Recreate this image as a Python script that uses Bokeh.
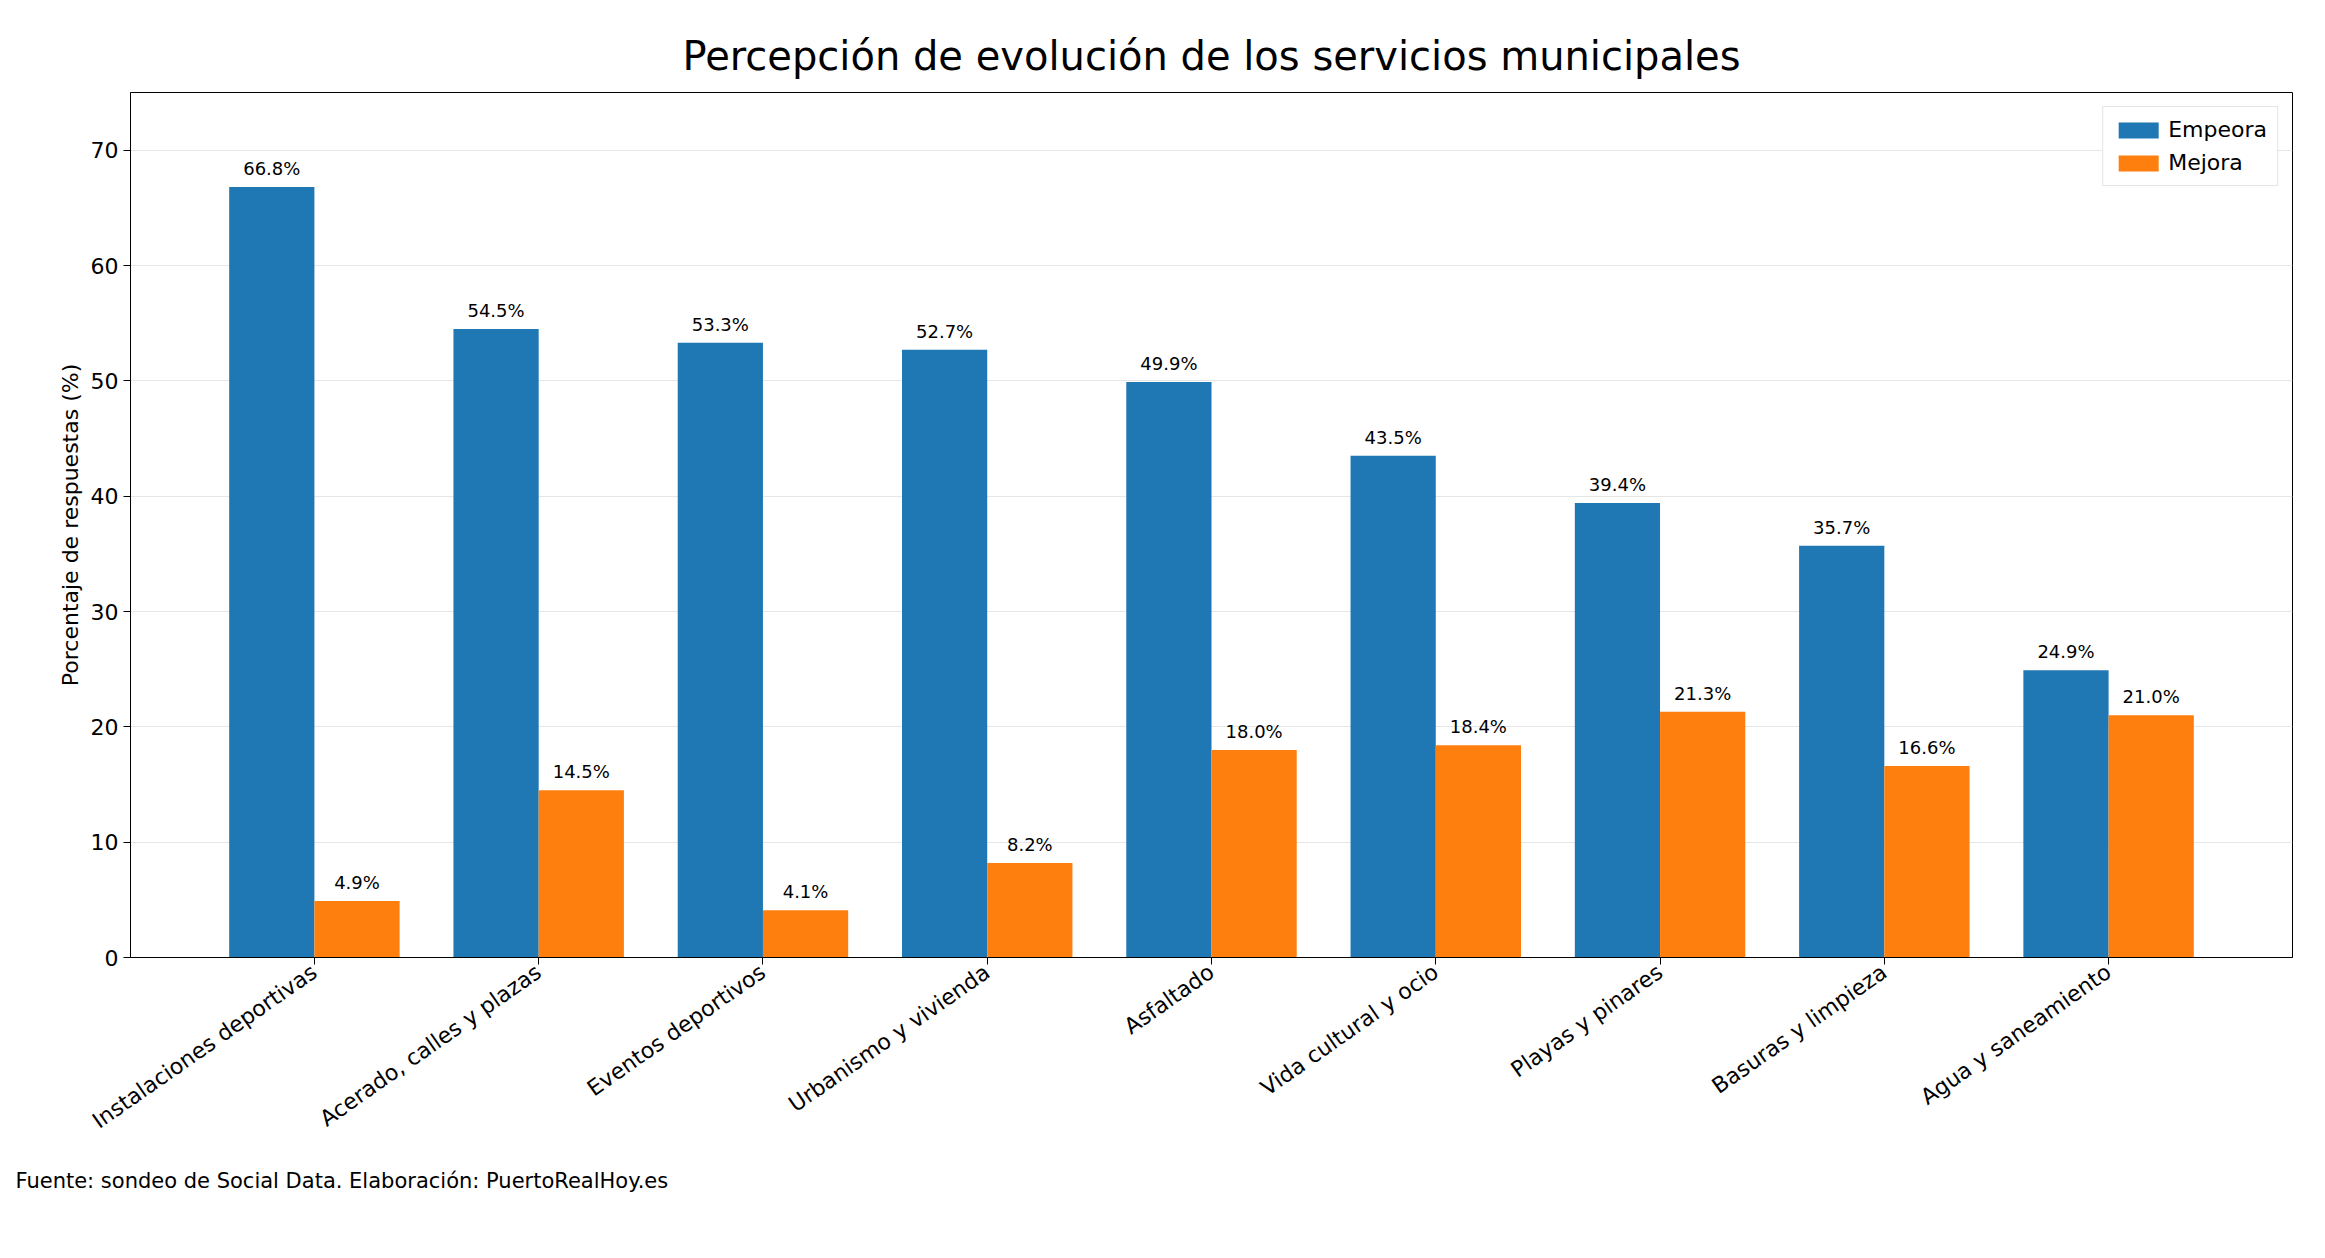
from bokeh.plotting import figure
from bokeh.models import ColumnDataSource, Range1d, Title, LabelSet, Legend, LegendItem
from bokeh.transform import dodge
from bokeh.core.properties import value
from bokeh.embed import file_html
from bokeh.resources import INLINE
import math

categories = ["Instalaciones deportivas", "Acerado, calles y plazas", "Eventos deportivos",
              "Urbanismo y vivienda", "Asfaltado", "Vida cultural y ocio", "Playas y pinares",
              "Basuras y limpieza", "Agua y saneamiento"]
empeora = [66.8, 54.5, 53.3, 52.7, 49.9, 43.5, 39.4, 35.7, 24.9]
mejora = [4.9, 14.5, 4.1, 8.2, 18.0, 18.4, 21.3, 16.6, 21.0]

FONT = "DejaVu Sans"
src = ColumnDataSource(dict(cat=categories, e=empeora, m=mejora,
                            el=[f"{v:.1f}%" for v in empeora], ml=[f"{v:.1f}%" for v in mejora]))

p = figure(x_range=categories, width=2309, height=1242, output_backend="svg",
           toolbar_location=None, min_border_left=130, min_border_right=17,
           min_border_top=92, min_border_bottom=285)
p.y_range = Range1d(0, 75)
p.x_range.range_padding = 0.64 / 9
p.x_range.factor_padding = 0
p.title.text = "Percepción de evolución de los servicios municipales"
p.title.text_font = FONT
p.title.text_font_size = "40px"
p.title.text_font_style = "normal"
p.title.text_color = "black"
p.title.align = "center"
p.title.standoff = 28

b1 = p.vbar(x=dodge("cat", -0.19, range=p.x_range), top="e", width=0.38, source=src,
            color="#1f77b4", line_color=None)
b2 = p.vbar(x=dodge("cat", 0.19, range=p.x_range), top="m", width=0.38, source=src,
            color="#ff7f0e", line_color=None)
for col, lab, off in (("e", "el", -0.19), ("m", "ml", 0.19)):
    p.add_layout(LabelSet(x=dodge("cat", off, range=p.x_range), y=col, text=lab, source=src,
                          text_align="center", y_offset=8, text_font=value(FONT),
                          text_font_size="18px", text_color="black"))

legend = Legend(items=[LegendItem(label="Empeora", renderers=[b1]),
                       LegendItem(label="Mejora", renderers=[b2])],
                location="top_right", label_text_font=FONT, label_text_font_size="22px",
                label_text_color="black",
                border_line_color="#cccccc", glyph_width=50, glyph_height=20, spacing=8,
                padding=10, margin=14)
p.add_layout(legend)

p.xgrid.grid_line_color = None
p.ygrid.grid_line_color = "#e6e6e6"
p.yaxis.axis_label = "Porcentaje de respuestas (%)"
p.yaxis.axis_label_text_font = FONT
p.yaxis.axis_label_text_font_style = "normal"
p.yaxis.axis_label_text_font_size = "22px"
p.yaxis.axis_label_text_color = "black"
for ax in (p.xaxis, p.yaxis):
    ax.major_label_text_font = FONT
    ax.major_label_text_font_size = "22px"
    ax.major_label_text_color = "black"
    ax.axis_line_color = "black"
    ax.major_tick_line_color = "black"
    ax.minor_tick_line_color = None
    ax.major_tick_out = 7
    ax.major_tick_in = 0
p.yaxis.ticker = [0, 10, 20, 30, 40, 50, 60, 70]
p.xaxis.major_label_orientation = math.radians(35)
p.outline_line_color = "black"

p.add_layout(Title(text="Fuente: sondeo de Social Data. Elaboración: PuertoRealHoy.es",
                   align="left", text_font=FONT, text_font_size="21px", text_color="black",
                   text_font_style="normal", offset=-115, standoff=40), "below")

open("out.html", "w").write(file_html(p, INLINE))
